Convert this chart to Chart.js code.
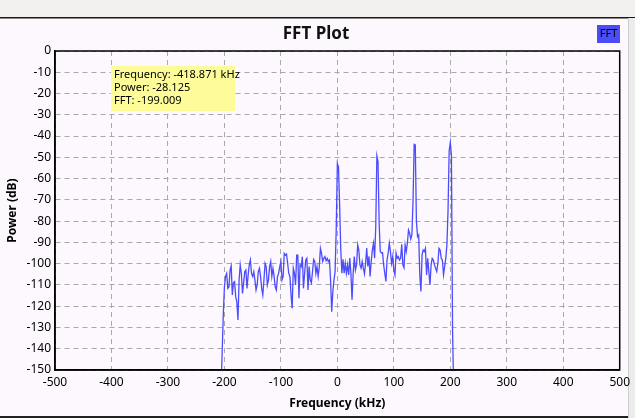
<!DOCTYPE html>
<html><head><meta charset="utf-8">
<script src="https://cdn.jsdelivr.net/npm/chart.js@4/dist/chart.umd.min.js"></script>
<style>html,body{margin:0;padding:0;background:#fdf8fd;overflow:hidden}#c{display:block}</style>
</head><body><canvas id="c" width="635" height="418"></canvas>
<script>
const freqsKHz = [-206,-204,-202,-200,-198,-196,-194,-192,-190,-188,-186,-184,-182,-180,-178,-176,-174,-172,-170,-168,-166,-164,-162,-160,-158,-156,-154,-152,-150,-148,-146,-144,-142,-140,-138,-136,-134,-132,-130,-128,-126,-124,-122,-120,-118,-116,-114,-112,-110,-108,-106,-104,-102,-100,-98,-96,-94,-92,-90,-88,-86,-84,-82,-80,-78,-76,-74,-72,-70,-68,-66,-64,-62,-60,-58,-56,-54,-52,-50,-48,-46,-44,-42,-40,-38,-36,-34,-32,-30,-28,-26,-24,-22,-20,-18,-16,-14,-12,-10,-8,-6,-4,-2,0,2,4,6,8,10,12,14,16,18,20,22,24,26,28,30,32,34,36,38,40,42,44,46,48,50,52,54,56,58,60,62,64,66,68,70,72,74,76,78,80,82,84,86,88,90,92,94,96,98,100,102,104,106,108,110,112,114,116,118,120,122,124,126,128,130,132,134,136,138,140,142,144,146,148,150,152,154,156,158,160,162,164,166,168,170,172,174,176,178,180,182,184,186,188,190,192,194,196,198,200,202,204,206];
const powerDb = [-160,-142,-124,-111,-106,-104.6,-111.6,-111,-103,-101,-114.7,-109,-108.5,-115.5,-118,-126.5,-107.7,-100.6,-104.6,-114,-109,-103.8,-103,-111.6,-105.4,-100.6,-98.3,-104.6,-106,-103.8,-107.7,-112.4,-110,-103.8,-102.2,-106,-111.6,-114.7,-107.7,-99.9,-101.4,-110,-107.7,-101.4,-99,-106,-102.2,-106,-111,-112.4,-106,-104.6,-101.4,-99,-107.7,-106,-95.2,-96,-95.5,-99.9,-104.6,-106,-114.7,-121,-102.2,-104.6,-110,-96,-96,-116.3,-100.6,-101.4,-96.7,-111.6,-104.6,-98.3,-97.5,-112.4,-101.4,-107.7,-109,-103.8,-98,-99,-104.6,-101.4,-106,-101.4,-92.8,-95.2,-99,-97.5,-96.7,-98.6,-97.5,-99,-98.3,-107.7,-122.6,-113.2,-107.7,-103.8,-84,-53,-54.5,-72,-93,-104.5,-98,-104.5,-99.8,-104.5,-100.6,-105.3,-97.4,-104.5,-117,-104.5,-96.6,-103,-100.6,-91.2,-93.5,-100.6,-102.1,-99,-102.1,-104.8,-99.8,-92.7,-101.3,-96.6,-106,-99,-93.5,-90.4,-97.4,-82.5,-49.3,-52,-81,-94.3,-95,-94.8,-100.6,-104.5,-108.4,-98.2,-95,-90.4,-94.3,-99.8,-96.6,-103,-105.3,-95,-97.4,-96.7,-98.3,-97.5,-90.9,-100.6,-101.9,-91.2,-94.3,-90.4,-84.2,-85.7,-88.4,-86.5,-70.8,-43.9,-44.2,-80,-87.3,-86.5,-105.3,-113.1,-95.9,-93.6,-94.3,-92.8,-105.3,-97.5,-103.7,-110,-100.6,-97.5,-98.3,-100.6,-102.2,-103.7,-99.8,-92.8,-93.6,-97.5,-98.3,-105.3,-101.4,-97.5,-91.2,-75,-47,-43,-49,-131,-160];
const xTickValues = [-500,-400,-300,-200,-100,0,100,200,300,400,500];
const yTickValues = [0,-10,-20,-30,-40,-50,-60,-70,-80,-90,-100,-110,-120,-130,-140,-150];
const titleText = 'FFT Plot';
const seriesName = 'FFT';
const xTitle = 'Frequency (kHz)';
const yTitle = 'Power (dB)';
const infoLines = ['Frequency: -418.871 kHz', 'Power: -28.125', 'FFT: -199.009'];

const points = freqsKHz.map((f, i) => ({x: f, y: powerDb[i]}));
const FONT = 'Noto Sans';
const LINE_COLOR = '#4b4bff';

const decor = {
  id: 'decor',
  beforeDraw(chart) {
    const ctx = chart.ctx;
    ctx.save();
    ctx.fillStyle = '#fdf8fd';
    ctx.fillRect(0, 0, 635, 418);
    ctx.fillStyle = '#f2f1f0';
    ctx.fillRect(0, 0, 635, 17);
    ctx.fillStyle = '#1a1a1a';
    ctx.fillRect(0, 17, 635, 1.5);
    ctx.fillStyle = '#ececec';
    ctx.fillRect(628, 18, 7, 400);
    ctx.fillStyle = '#cfcfcf';
    ctx.fillRect(628, 18, 1, 400);
    ctx.fillStyle = '#222';
    ctx.fillRect(0, 416, 628, 2);
    ctx.restore();
  },
  afterDraw(chart) {
    const ctx = chart.ctx;
    const a = chart.chartArea;
    ctx.save();
    ctx.strokeStyle = '#000';
    ctx.lineWidth = 1.5;
    ctx.strokeRect(a.left, a.top, a.right - a.left, a.bottom - a.top);
    ctx.fillStyle = '#111';
    ctx.font = 'bold 17px "' + FONT + '"';
    ctx.textAlign = 'center';
    ctx.textBaseline = 'middle';
    ctx.fillText(titleText, 316, 34);
    ctx.fillStyle = '#4b4bf7';
    ctx.fillRect(597, 25, 23, 18);
    ctx.fillStyle = '#000';
    ctx.font = '11px "' + FONT + '"';
    ctx.fillText(seriesName, 608.5, 34);
    ctx.fillStyle = '#fdfc98';
    ctx.fillRect(111, 66, 124, 45);
    ctx.fillStyle = '#000';
    ctx.textAlign = 'left';
    ctx.font = '11px "' + FONT + '"';
    infoLines.forEach((t, i) => ctx.fillText(t, 114, 75 + i * 13));
    ctx.restore();
  }
};

new Chart(document.getElementById('c'), {
  type: 'line',
  data: {
    datasets: [{
      label: seriesName,
      data: points,
      borderColor: LINE_COLOR,
      borderWidth: 1.3,
      pointRadius: 0,
      tension: 0,
      fill: false
    }]
  },
  options: {
    responsive: false,
    animation: false,
    devicePixelRatio: 1,
    layout: {padding: {top: 51, right: 14, left: 0, bottom: 0}},
    plugins: {legend: {display: false}, tooltip: {enabled: false}, title: {display: false}},
    scales: {
      x: {
        type: 'linear', min: -500, max: 500,
        afterBuildTicks: s => { s.ticks = xTickValues.map(v => ({value: v})); },
        afterFit: s => { s.height = 48; },
        ticks: {color: '#000', font: {family: FONT, size: 12}, padding: 5, maxRotation: 0},
        grid: {color: '#a9a9a9', lineWidth: 1, drawTicks: false},
        border: {display: true, color: '#000', width: 1.5, dash: [5, 4]},
        title: {display: true, text: xTitle, color: '#000', font: {family: FONT, size: 12, weight: 'bold'}, padding: {top: 0, bottom: 7}}
      },
      y: {
        type: 'linear', min: -150, max: 0,
        afterBuildTicks: s => { s.ticks = yTickValues.map(v => ({value: v})); },
        afterFit: s => { s.width = 55; },
        ticks: {color: '#000', font: {family: FONT, size: 12}, padding: 4},
        grid: {color: '#a9a9a9', lineWidth: 1, drawTicks: false},
        border: {display: true, color: '#000', width: 1.5, dash: [5, 4]},
        title: {display: true, text: yTitle, color: '#000', font: {family: FONT, size: 12, weight: 'bold'}, padding: {top: 5, bottom: 0}}
      }
    }
  },
  plugins: [decor]
});
</script>
</body></html>
